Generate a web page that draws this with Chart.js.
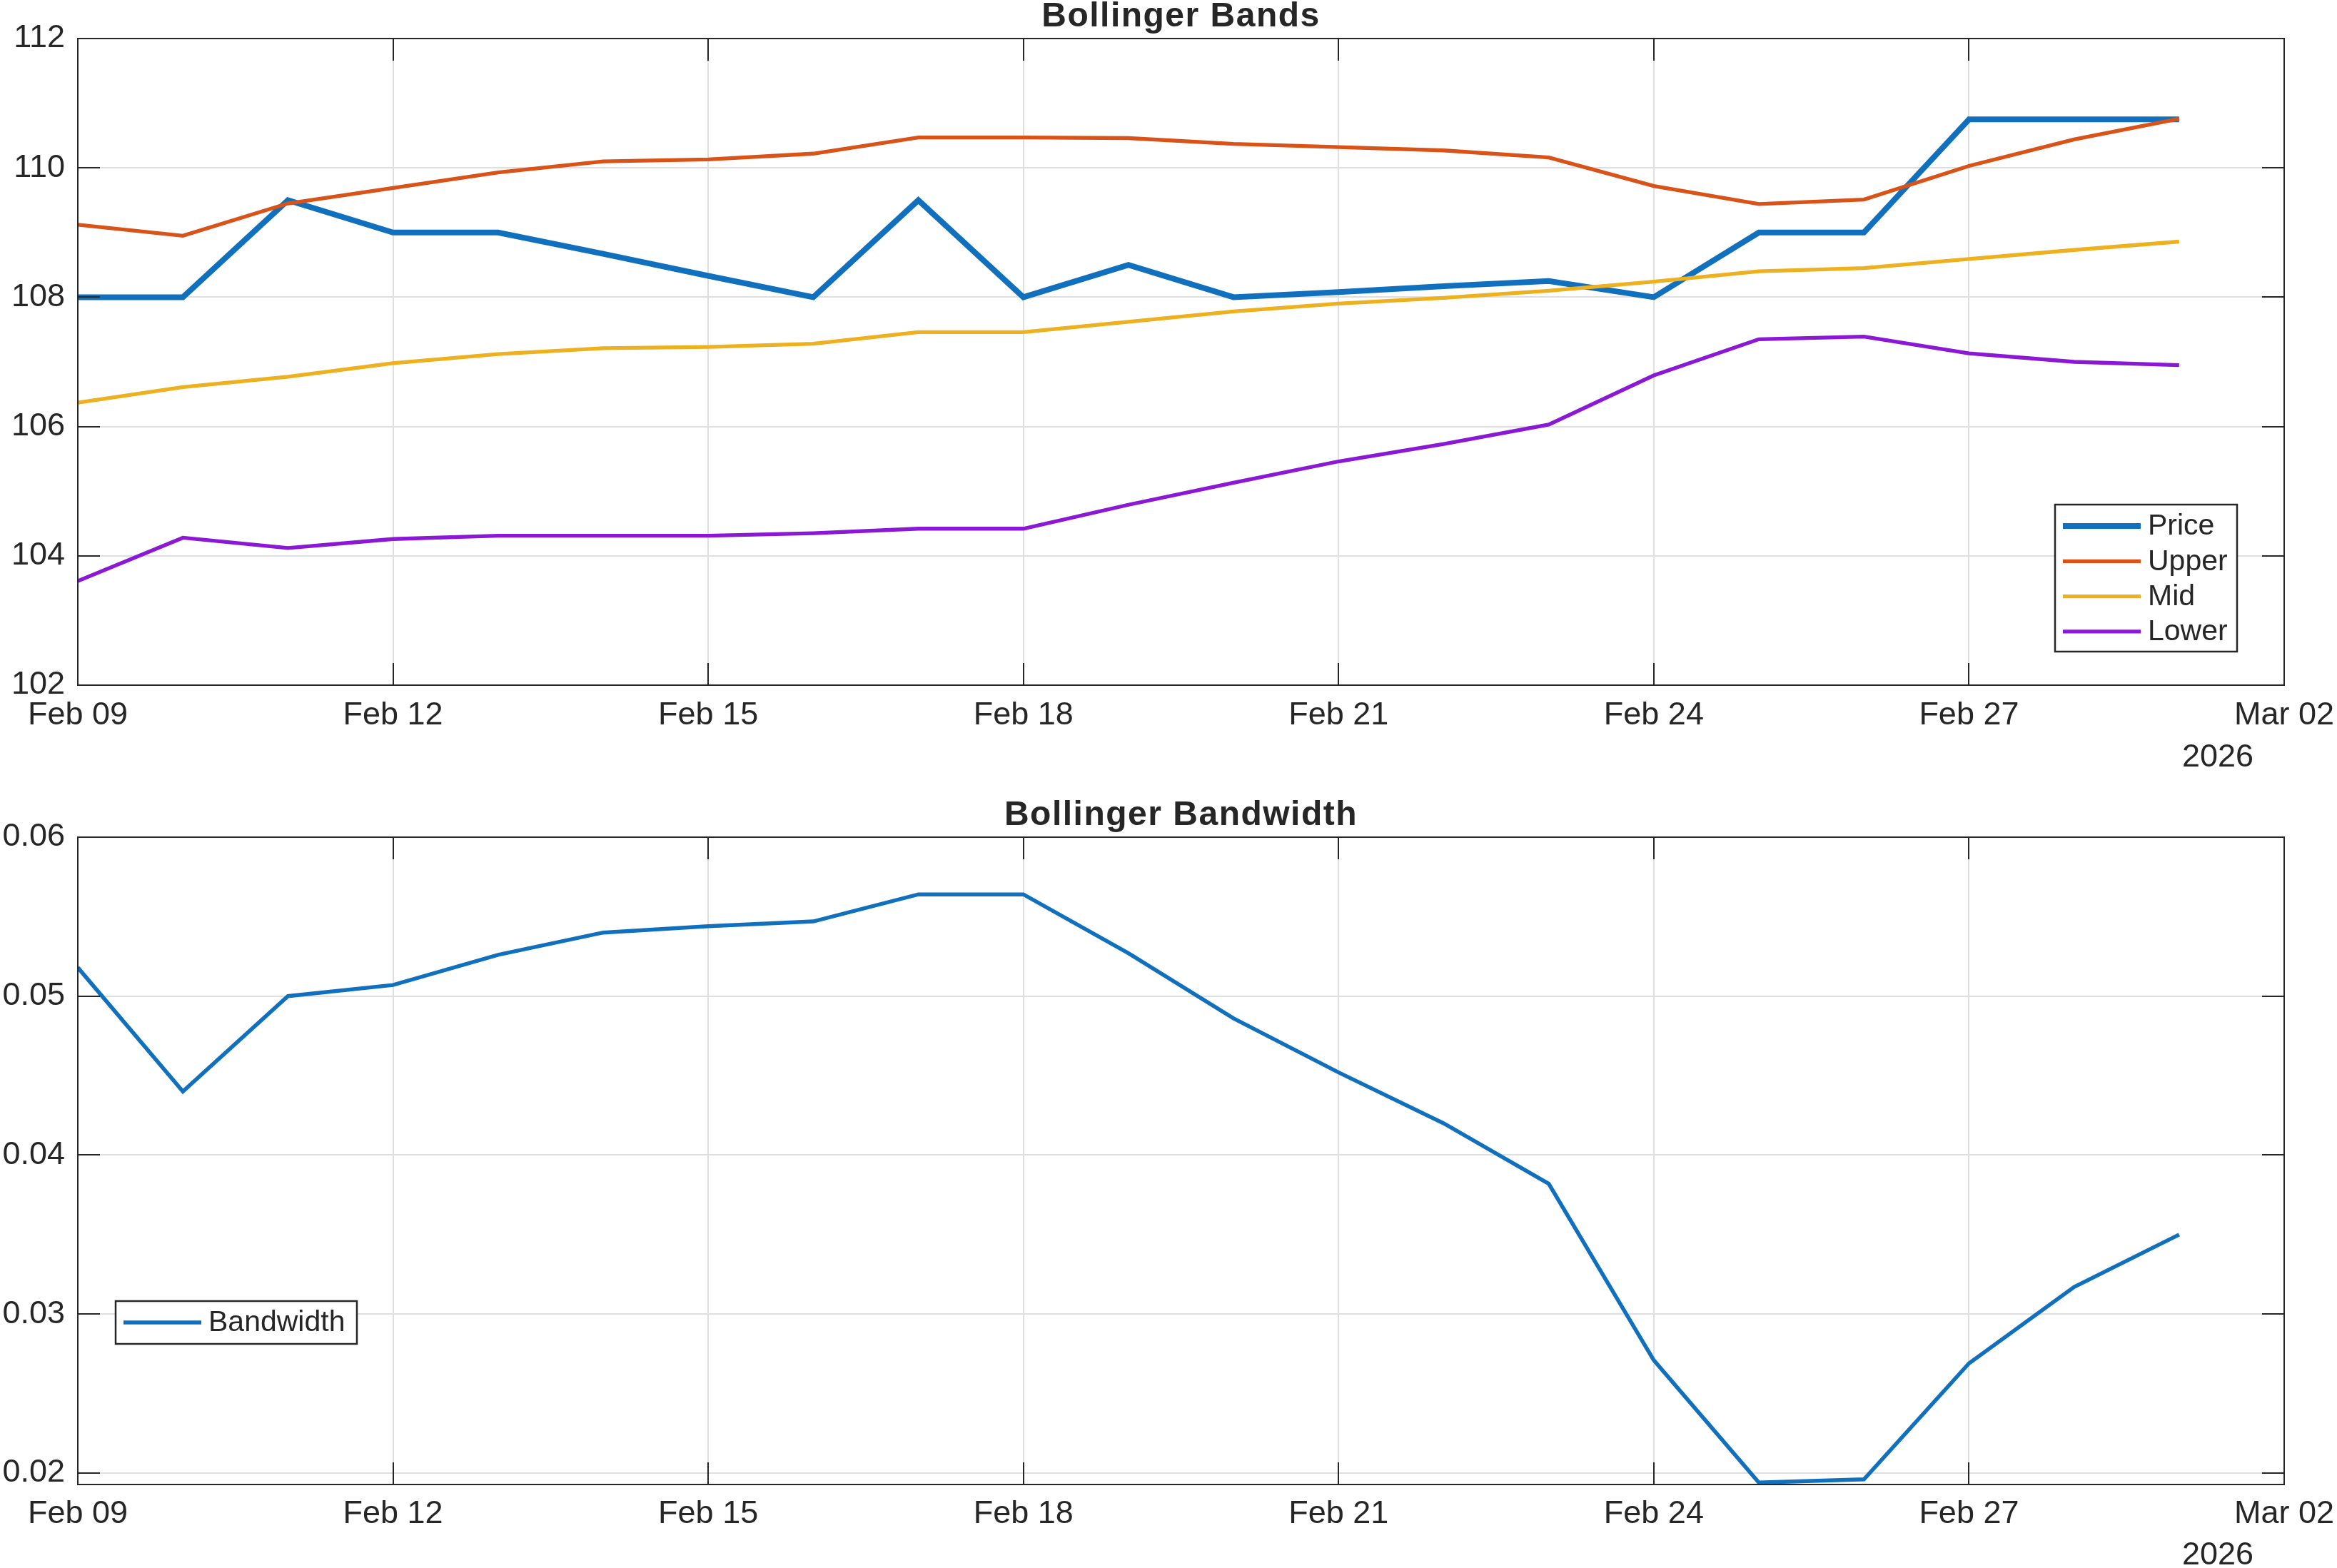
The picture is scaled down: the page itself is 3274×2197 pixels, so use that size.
<!DOCTYPE html>
<html><head><meta charset="utf-8">
<script src="https://cdn.jsdelivr.net/npm/chart.js@4.4.1/dist/chart.umd.min.js"></script>
<style>
html,body{margin:0;padding:0;background:#fff;}
body{width:3274px;height:2197px;position:relative;overflow:hidden;}
canvas{position:absolute;left:0;}
</style></head><body>
<canvas id="c1" width="3274" height="1100" style="top:0px"></canvas>
<canvas id="c2" width="3274" height="1097" style="top:1100px"></canvas>
<script>
// ---------------- data ----------------
const dates = ['2026-02-09','2026-02-10','2026-02-11','2026-02-12','2026-02-13','2026-02-14','2026-02-15',
  '2026-02-16','2026-02-17','2026-02-18','2026-02-19','2026-02-20','2026-02-21','2026-02-22',
  '2026-02-23','2026-02-24','2026-02-25','2026-02-26','2026-02-27','2026-02-28','2026-03-01'];
const price = [108.00,108.00,109.50,109.00,109.00,108.67,108.33,108.00,109.50,108.00,108.50,108.00,
  108.08,108.17,108.25,108.00,109.00,109.00,110.75,110.75,110.75];
const upper = [109.12,108.95,109.45,109.69,109.93,110.10,110.13,110.22,110.47,110.47,110.46,110.37,
  110.32,110.27,110.16,109.72,109.44,109.51,110.03,110.44,110.76];
const mid = [106.37,106.61,106.77,106.98,107.12,107.21,107.23,107.28,107.46,107.46,107.62,107.78,
  107.90,107.99,108.10,108.24,108.40,108.45,108.59,108.73,108.86];
const lower = [103.61,104.28,104.12,104.26,104.31,104.31,104.31,104.35,104.42,104.42,104.79,105.13,
  105.46,105.73,106.03,106.79,107.35,107.39,107.13,107.00,106.95];
const bandwidth = [0.0518,0.0440,0.0500,0.0507,0.0526,0.0540,0.0544,0.0547,0.0564,0.0564,0.0527,0.0486,
  0.0452,0.0420,0.0382,0.0271,0.0194,0.0196,0.0269,0.0317,0.0350];
const xTickLabels = ['Feb 09','Feb 12','Feb 15','Feb 18','Feb 21','Feb 24','Feb 27','Mar 02'];
const yearLabel = '2026';
const seriesNames = ['Price','Upper','Mid','Lower'];
const bwName = 'Bandwidth';
const titles = ['Bollinger Bands','Bollinger Bandwidth'];

// ---------------- helpers ----------------
const DAY = 86400000;
const t0 = Date.parse(dates[0] + 'T00:00:00Z');
const xs = dates.map(d => Math.round((Date.parse(d + 'T00:00:00Z') - t0) / DAY));
const pts = arr => arr.map((v, i) => ({x: xs[i], y: v}));
const FONT = '"Liberation Sans", Arial, Helvetica, sans-serif';
const AX = '#262626';
const GRID = '#dfdfdf';

const matlabPlugin = {
  id: 'matlabAxes',
  afterDatasetsDraw(chart, args, o) {
    const {ctx, chartArea: a, scales} = chart;
    ctx.save();
    ctx.strokeStyle = AX; ctx.lineWidth = 2;
    const L = 31;
    ctx.beginPath();
    scales.x.ticks.forEach(t => {
      const px = Math.round(scales.x.getPixelForValue(t.value));
      ctx.moveTo(px, a.bottom); ctx.lineTo(px, a.bottom - L);
      ctx.moveTo(px, a.top); ctx.lineTo(px, a.top + L);
    });
    scales.y.ticks.forEach(t => {
      const py = Math.round(scales.y.getPixelForValue(t.value));
      ctx.moveTo(a.left, py); ctx.lineTo(a.left + L, py);
      ctx.moveTo(a.right, py); ctx.lineTo(a.right - L, py);
    });
    ctx.stroke();
    ctx.strokeRect(a.left, a.top, a.right - a.left, a.bottom - a.top);

    // title
    ctx.fillStyle = AX;
    ctx.font = 'bold 48px ' + FONT;
    ctx.textAlign = 'center'; ctx.textBaseline = 'alphabetic';
    try { ctx.letterSpacing = '1.5px'; } catch (e) {}
    ctx.fillText(o.title, (a.left + a.right) / 2, o.titleY);
    try { ctx.letterSpacing = '0px'; } catch (e) {}

    // year label under the x axis
    ctx.font = '45px ' + FONT;
    ctx.textAlign = 'right';
    ctx.fillText(yearLabel, a.right - 43, o.yearY);

    // legend
    const lg = o.legend;
    ctx.fillStyle = '#ffffff';
    ctx.fillRect(lg.left, lg.top, lg.right - lg.left, lg.bottom - lg.top);
    ctx.strokeStyle = AX; ctx.lineWidth = 2.5;
    ctx.strokeRect(lg.left, lg.top, lg.right - lg.left, lg.bottom - lg.top);
    ctx.font = '41px ' + FONT;
    ctx.textAlign = 'left'; ctx.textBaseline = 'middle';
    chart.data.datasets.forEach((ds, i) => {
      const y = lg.firstRow + i * lg.rowH;
      ctx.strokeStyle = ds.borderColor; ctx.lineWidth = ds.borderWidth;
      ctx.beginPath(); ctx.moveTo(lg.x1, y); ctx.lineTo(lg.x2, y); ctx.stroke();
      ctx.fillStyle = AX;
      ctx.fillText(ds.label, lg.textX, y + 1);
    });
    ctx.restore();
  }
};

function xScale(pad) {
  return {
    type: 'linear', min: 0, max: 21,
    ticks: {stepSize: 3, autoSkip: false, maxRotation: 0, padding: pad, color: AX,
      font: {family: FONT, size: 45},
      callback: v => xTickLabels[Math.round(v / 3)]},
    grid: {color: GRID, lineWidth: 2, drawTicks: false},
    border: {display: false},
    afterFit: s => { s.height = 100; s.paddingLeft = 0; s.paddingRight = 0; }
  };
}

// ---------------- top chart ----------------
new Chart(document.getElementById('c1'), {
  type: 'line',
  data: {datasets: [
    {label: seriesNames[0], data: pts(price), borderColor: '#1170BE', borderWidth: 8, order: 4},
    {label: seriesNames[1], data: pts(upper), borderColor: '#D95319', borderWidth: 5.3, order: 3},
    {label: seriesNames[2], data: pts(mid), borderColor: '#EDB120', borderWidth: 5.3, order: 2},
    {label: seriesNames[3], data: pts(lower), borderColor: '#8A18D4', borderWidth: 5.3, order: 1}
  ]},
  options: {
    responsive: false, animation: false, devicePixelRatio: 1,
    layout: {padding: {left: 0, right: 74, top: 54, bottom: 40}},
    elements: {point: {radius: 0}, line: {tension: 0, fill: false}},
    plugins: {legend: {display: false}, tooltip: {enabled: false}, title: {display: false},
      matlabAxes: {title: titles[0], titleY: 37, yearY: 1074,
        legend: {left: 2879, top: 707, right: 3134, bottom: 913, x1: 2890, x2: 2999, textX: 3009, firstRow: 737, rowH: 49.3}}},
    scales: {
      x: xScale(16),
      y: {type: 'linear', min: 102, max: 112,
        ticks: {stepSize: 2, padding: 18, color: AX, font: {family: FONT, size: 45}},
        grid: {color: GRID, lineWidth: 2, drawTicks: false},
        border: {display: false},
        afterFit: s => { s.width = 109; }}
    }
  },
  plugins: [matlabPlugin]
});

// ---------------- bottom chart ----------------
new Chart(document.getElementById('c2'), {
  type: 'line',
  data: {datasets: [
    {label: bwName, data: pts(bandwidth), borderColor: '#1170BE', borderWidth: 5.5}
  ]},
  options: {
    responsive: false, animation: false, devicePixelRatio: 1,
    layout: {padding: {left: 0, right: 74, top: 73, bottom: 17}},
    elements: {point: {radius: 0}, line: {tension: 0, fill: false}},
    plugins: {legend: {display: false}, tooltip: {enabled: false}, title: {display: false},
      matlabAxes: {title: titles[1], titleY: 56, yearY: 1092,
        legend: {left: 162, top: 723, right: 500, bottom: 783, x1: 173, x2: 282, textX: 292, firstRow: 753, rowH: 49}}},
    scales: {
      x: xScale(15),
      y: {type: 'linear', min: 0.01928, max: 0.06,
        ticks: {stepSize: 0.01, includeBounds: false, padding: 18, color: AX, font: {family: FONT, size: 45},
          callback: v => v.toFixed(2)},
        grid: {color: GRID, lineWidth: 2, drawTicks: false},
        border: {display: false},
        afterFit: s => { s.width = 109; }}
    }
  },
  plugins: [matlabPlugin]
});
</script>
</body></html>
